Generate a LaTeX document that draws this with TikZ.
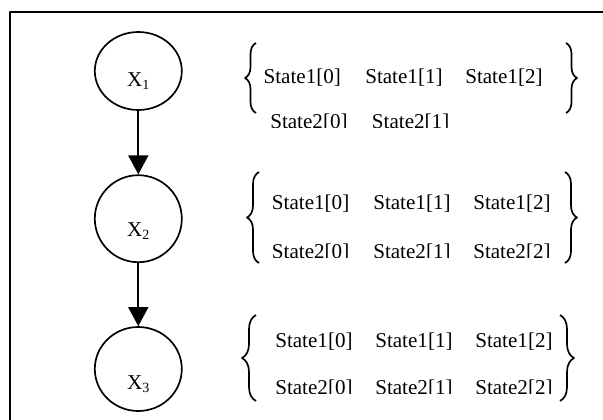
\documentclass[tikz,border=0pt]{standalone}
\usepackage{fontspec}
\setmainfont{Liberation Serif}
\usetikzlibrary{shapes.geometric, arrows.meta, decorations.pathreplacing}
\tikzset{>={Triangle[length=0.475cm, width=0.5cm]}}
\tikzset{var/.style={ellipse, draw, line width=1.2pt, minimum width=2.175cm, inner sep=0pt}}
\tikzset{state/.style={anchor=base west, inner sep=0pt, font=\fontsize{15}{18}\selectfont}}
\tikzset{brc/.style={decorate, line width=1.2pt, decoration={brace, amplitude=#1}}}
\newcommand{\xvar}[1]{\fontsize{15}{17}\selectfont X\raisebox{-0.3ex}{\fontsize{10}{11}\selectfont #1}}

\begin{document}
\begin{tikzpicture}[line join = round]
    \useasboundingbox (0,0) rectangle (15.075,-10.475);
    \begin{scope}
        \clip (0,0) rectangle (15.075,-10.475);
        \draw[line width=1.5pt] (0.25,-0.3) rectangle (16,-11);
    \end{scope}

    % the three variables
    \node[var, minimum height=1.95cm, label={[yshift=-0.25cm]center:\xvar{1}}] (x1) at (3.4575,-1.775) {};
    \node[var, minimum height=2.175cm, label={[yshift=-0.3cm]center:\xvar{2}}] (x2) at (3.4575,-5.4675) {};
    \node[var, minimum height=2.1cm, label={[yshift=-0.375cm]center:\xvar{3}}] (x3) at (3.4575,-9.225) {};
    \draw[->, line width=1.2pt] (x1) -- (x2);
    \draw[->, line width=1.2pt] (x2) -- (x3);

    % states of X1
    \begin{scope}
        \clip (6,-0.8) rectangle (14,-3.175);
        \node[state] (g1s10) at (6.583,-2.075) {State1[0]};
        \node[state] (g1s11) at (9.125,-2.075) {State1[1]};
        \node[state] (g1s12) at (11.625,-2.075) {State1[2]};
        \node[state] (g1s20) at (6.75,-3.2125) {State2[0]};
        \node[state] (g1s21) at (9.2925,-3.2125) {State2[1]};
    \end{scope}
    \draw[brc=0.275cm] (6.4,-2.825) -- (6.4,-1.075);
    \draw[brc=0.275cm] (14.15,-1.075) -- (14.15,-2.825);

    % states of X2
    \begin{scope}
        \clip (6,-4.5) rectangle (14,-6.425);
        \node[state] (g2s10) at (6.7925,-5.225) {State1[0]};
        \node[state] (g2s11) at (9.325,-5.225) {State1[1]};
        \node[state] (g2s12) at (11.825,-5.225) {State1[2]};
        \node[state] (g2s20) at (6.7925,-6.4625) {State2[0]};
        \node[state] (g2s21) at (9.325,-6.4625) {State2[1]};
        \node[state] (g2s22) at (11.825,-6.4625) {State2[2]};
    \end{scope}
    \draw[brc=0.3cm] (6.475,-6.575) -- (6.475,-4.3);
    \draw[brc=0.3cm] (14.125,-4.3) -- (14.125,-6.575);

    % states of X3
    \begin{scope}
        \clip (6,-8) rectangle (14,-9.825);
        \node[state] (g3s10) at (6.875,-8.675) {State1[0]};
        \node[state] (g3s11) at (9.375,-8.675) {State1[1]};
        \node[state] (g3s12) at (11.875,-8.675) {State1[2]};
        \node[state] (g3s20) at (6.875,-9.8625) {State2[0]};
        \node[state] (g3s21) at (9.375,-9.8625) {State2[1]};
        \node[state] (g3s22) at (11.875,-9.8625) {State2[2]};
    \end{scope}
    \draw[brc=0.35cm] (6.4,-10.025) -- (6.4,-7.875);
    \draw[brc=0.35cm] (14.0,-7.875) -- (14.0,-10.025);

\end{tikzpicture}
\end{document}
